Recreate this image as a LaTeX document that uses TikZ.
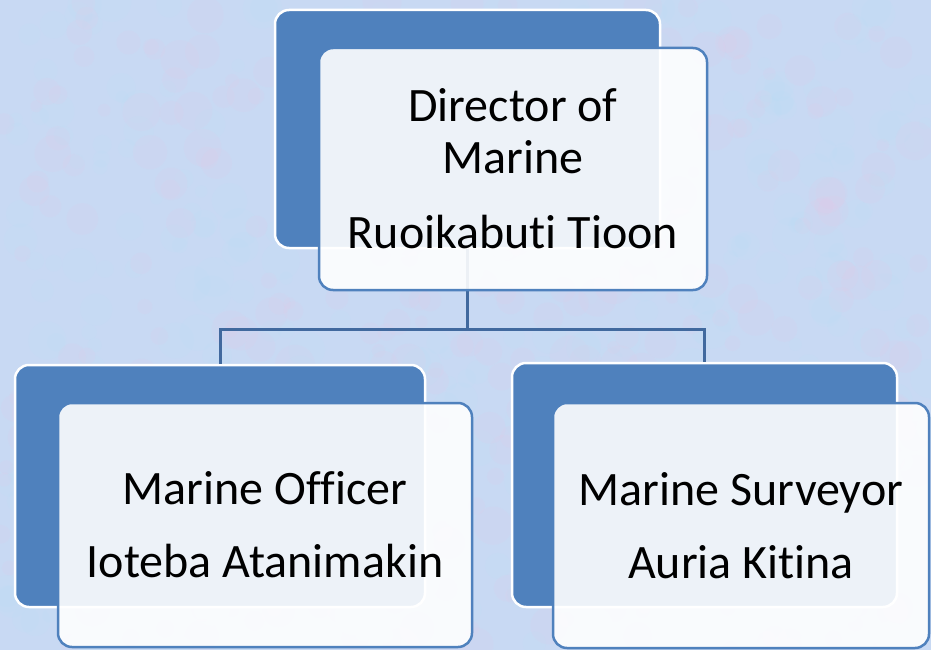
\documentclass[tikz,border=0pt]{standalone}
\usepackage{fontspec}
\setmainfont{Carlito}[Ligatures=NoCommon]
\definecolor{accentblue}{HTML}{4F81BD}
\definecolor{linkblue}{HTML}{41699E}
\definecolor{paper}{HTML}{C8D9F3}
\tikzset{
  backbox/.style={draw=white, line width=2.5pt, fill=accentblue, rounded corners=14pt},
  frontbox/.style={draw=accentblue, line width=2.5pt, fill=white, fill opacity=0.9,
    text opacity=1, rounded corners=14pt, align=center, font=\fontsize{48}{52}\selectfont},
  link/.style={draw=linkblue, line width=3pt}
}
\begin{document}
\begin{tikzpicture}[x=1pt,y=-1pt]
\useasboundingbox (0,0) rectangle (931,650);
% paper background
\fill[paper] (0,0) rectangle (931,650);
\begin{scope}
\clip (0,0) rectangle (931,650);
\pgfmathsetseed{7}
\foreach \i in {1,...,400}{
  \fill[magenta!25, opacity=0.08] (rnd*931,rnd*650) circle (6+rnd*14);
  \fill[cyan!30, opacity=0.08] (rnd*931,rnd*650) circle (6+rnd*14);
}
\end{scope}
% back boxes
\node[backbox, minimum width=385pt, minimum height=238pt] (dirback) at (467.5,129) {};
\node[backbox, minimum width=410pt, minimum height=242pt] (offback) at (220,486) {};
\node[backbox, minimum width=385pt, minimum height=244pt] (survback) at (704.5,485) {};
% links
\coordinate (split) at (467.5,329);
\draw[link] (dirback.south) -- (split);
\draw[link] (offback.north) |- (split) -| (survback.north);
% front boxes
\node[frontbox, minimum width=388pt, minimum height=242pt] (dir) at (513,169)
  {Director of\\Marine\\[23pt]Ruoikabuti Tioon};
\node[frontbox, minimum width=414pt, minimum height=244pt] (off) at (265,525)
  {Marine Officer\\[21pt]Ioteba Atanimakin};
\node[frontbox, minimum width=376pt, minimum height=245pt] (surv) at (741,525.5)
  {Marine Surveyor\\[21pt]Auria Kitina};
\end{tikzpicture}
\end{document}
